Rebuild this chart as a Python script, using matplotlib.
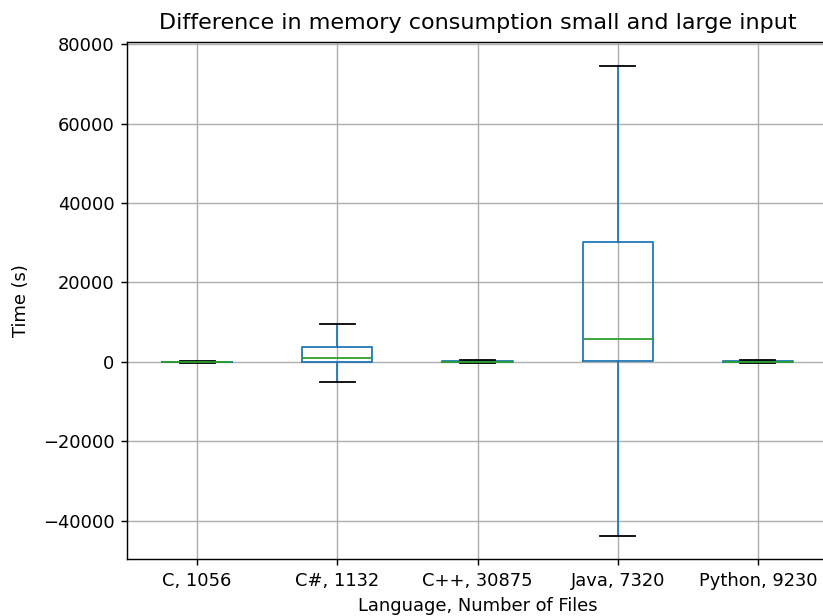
import matplotlib
matplotlib.use("Agg")
import matplotlib.pyplot as plt

# 各语言的箱线图统计量 (内存差值)
labels = ["C, 1056", "C#, 1132", "C++, 30875", "Java, 7320", "Python, 9230"]
whislo = [-300, -5000, -400, -43700, -400]
q1 = [-100, 0, -150, 250, -150]
med = [-20, 1000, 0, 5800, 0]
q3 = [60, 3800, 150, 30100, 150]
whishi = [200, 9500, 400, 74600, 400]

stats = []
for i in range(len(labels)):
    stats.append({"label": labels[i], "whislo": whislo[i], "q1": q1[i], "med": med[i],
                  "q3": q3[i], "whishi": whishi[i], "fliers": []})

DPI = 128.6
fig = plt.figure(figsize=(823 / DPI, 616 / DPI), dpi=DPI)
ax = fig.add_axes([127 / 823, 57 / 616, 701 / 823, 517 / 616])

ax.bxp(stats, showfliers=False, widths=0.5,
       boxprops=dict(color="#1f77b4"),
       whiskerprops=dict(color="#1f77b4"),
       medianprops=dict(color="#2ca02c"),
       capprops=dict(color="k"))
ax.grid(True)
ax.set_axisbelow(True)

ax.set_title("Difference in memory consumption small and large input", fontsize=12.5, pad=7)
ax.set_xlabel("Language, Number of Files")
ax.set_ylabel("Time (s)", labelpad=7)

fig.savefig("out.png", dpi=DPI)
